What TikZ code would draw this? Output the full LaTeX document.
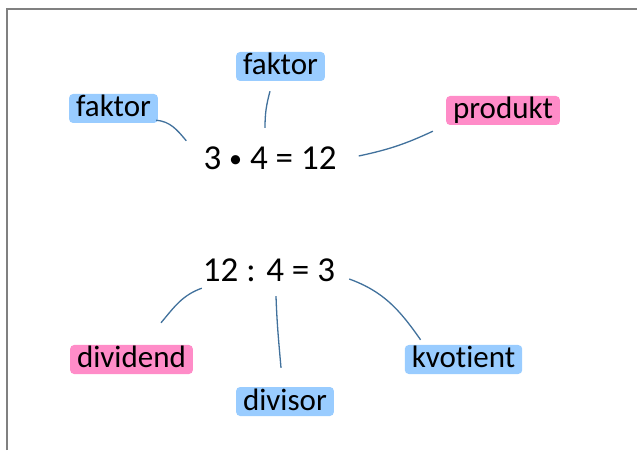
\documentclass[tikz,border=0pt]{standalone}
\usepackage{fontspec}
\setmainfont{Carlito}[Ligatures=NoCommon]
\definecolor{markblue}{RGB}{153,204,255}
\definecolor{markpink}{RGB}{255,140,200}
\definecolor{linkblue}{RGB}{65,113,156}
\definecolor{framegray}{RGB}{128,128,128}
\newcommand{\timesdot}{{\fontsize{26}{26}\selectfont\raisebox{2pt}{•}}}
\tikzset{
    term/.style = {
        font=\fontsize{31}{36}\selectfont,
        anchor=base,
        text height=21pt,
        text depth=4pt,
        inner xsep=7pt,
        inner ysep=2pt,
        rounded corners=4pt,
        },
    blue mark/.style = {
        term,
        fill = markblue,
        },
    pink mark/.style = {
        term,
        fill = markpink,
        },
    equation/.style = {
        font=\fontsize{35}{40}\selectfont,
        anchor=base,
        text height=24pt,
        text depth=2pt,
        inner sep=0pt,
        },
    link/.style = {
        draw=linkblue,
        line width=1.3pt,
        },
}

\begin{document}
\begin{tikzpicture}[x=1pt,y=1pt]
            \useasboundingbox (0,0) rectangle (637,450);
            \draw[framegray, line width=2pt] (7,0) -- (7,441) -- (637,441);

            % multiplication
            \node[equation] (eq1) at (270,280) {3 \timesdot{} 4 = 12};
            \node[blue mark] (fakL) at (113.5,333) {faktor};
            \node[blue mark] (fakT) at (280.5,375) {faktor};
            \node[pink mark] (prod) at (503,331) {produkt};

            % division
            \node[equation] (eq2) at (269,168) {12 : 4 = 3};
            \node[pink mark] (divd) at (131.5,82) {dividend};
            \node[blue mark] (divs) at (285,40) {divisor};
            \node[blue mark] (kvot) at (463.5,82) {kvotient};

            \path ([shift={(-2,3)}]fakL.south east) edge[link, out=-5, in=130] ([shift={(-17,5)}]eq1.north west);
            \path ([shift={(-10.5,-10)}]fakT.south) edge[link, out=-105, in=90] ([shift={(-5,18)}]eq1.north);
            \path ([shift={(-13,-6)}]prod.south west) edge[link, out=-155, in=12] ([shift={(22,3)}]eq1.east);

            \path ([shift={(-1,-4)}]eq2.south west) edge[link, out=-160, in=50] ([shift={(29.5,22)}]divd.north);
            \path ([shift={(7,-12)}]eq2.south) edge[link, out=-88, in=95] ([shift={(-4,19)}]divs.north);
            \path ([shift={(14,-8)}]eq2.east) edge[link, out=-20, in=125] ([shift={(16,5)}]kvot.north west);
        \end{tikzpicture}
\end{document}
